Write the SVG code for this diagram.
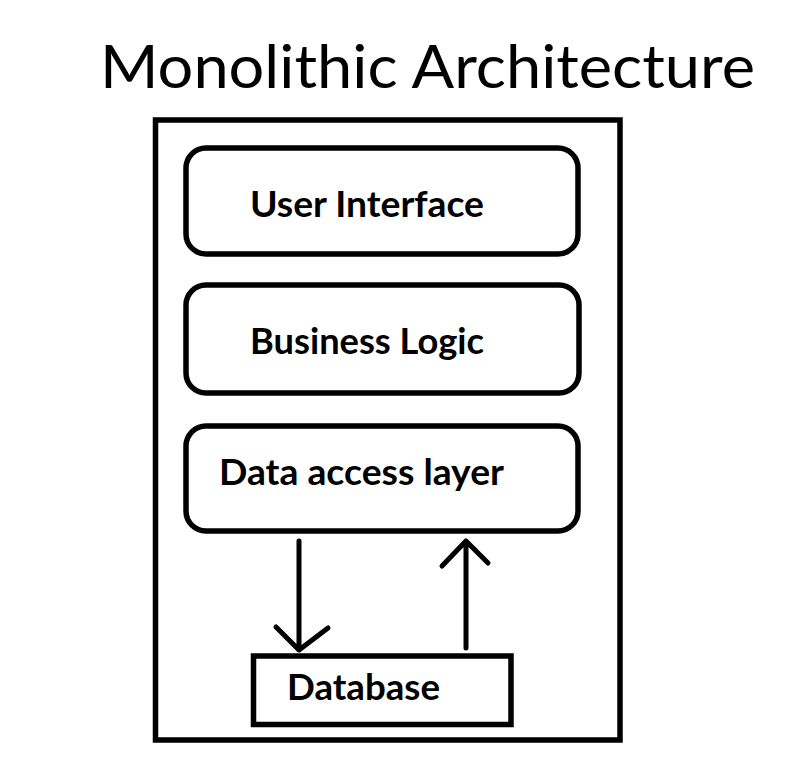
<svg xmlns="http://www.w3.org/2000/svg" width="799" height="775" viewBox="0 0 799 775">
<style>
.box{fill:#fff;stroke:#000;stroke-width:5.5}
.lbl{font-family:Lato,"Open Sans","Liberation Sans",sans-serif;font-weight:bold;font-size:36px;fill:#000}
.title{font-family:Lato,"Open Sans","Liberation Sans",sans-serif;font-size:60px;fill:#000}
.conn{fill:none;stroke:#000;stroke-width:5;stroke-linecap:round;stroke-linejoin:round}
</style>
<rect width="799" height="775" fill="#fff"/>
<text class="title" x="100" y="88" textLength="655" lengthAdjust="spacingAndGlyphs">Monolithic Architecture</text>
<g id="monolith"><rect class="box" x="155.5" y="120" width="464.5" height="620"/></g>
<g id="user-interface"><rect class="box" x="186" y="148" width="392" height="106" rx="20"/><text class="lbl" x="250" y="217" textLength="234" lengthAdjust="spacingAndGlyphs">User Interface</text></g>
<g id="business-logic"><rect class="box" x="186" y="285" width="393" height="108" rx="20"/><text class="lbl" x="250" y="354" textLength="234" lengthAdjust="spacingAndGlyphs">Business Logic</text></g>
<g id="data-access-layer"><rect class="box" x="186" y="426" width="392" height="105" rx="20"/><text class="lbl" x="219" y="485" textLength="285" lengthAdjust="spacingAndGlyphs">Data access layer</text></g>
<g id="database"><rect class="box" x="253.5" y="656" width="257.5" height="68.5"/><text class="lbl" x="287" y="700" textLength="153" lengthAdjust="spacingAndGlyphs">Database</text></g>
<g id="connectors">
<path class="conn" d="M299 541 V650 M276 627 L299 650 L328 628"/>
<path class="conn" d="M466 648 V541 M442 566 L466 541 L488 563"/>
</g>
</svg>
